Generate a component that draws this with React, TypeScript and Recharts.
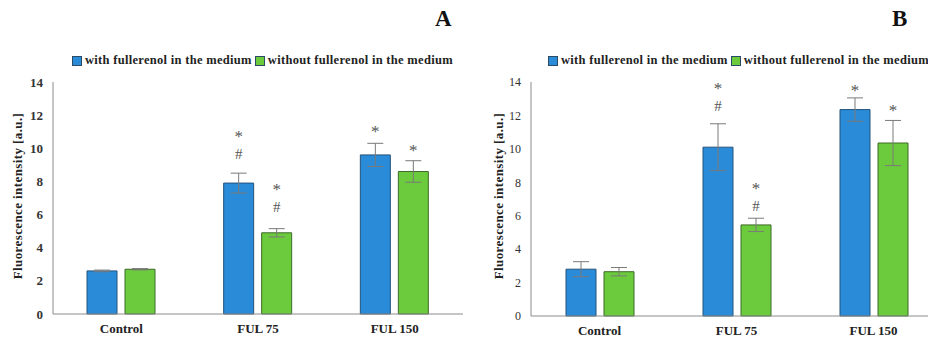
import { BarChart, Bar, XAxis, YAxis, ErrorBar, LabelList, Legend } from 'recharts'

const categories = ['Control', 'FUL 75', 'FUL 150']
const yTicks = [0, 2, 4, 6, 8, 10, 12, 14]

// panel A
const withA = [2.6, 7.9, 9.6]
const withAErr = [0.05, 0.6, 0.7]
const withoutA = [2.7, 4.9, 8.6]
const withoutAErr = [0.04, 0.25, 0.65]
const withAMarks = ['', '*#', '*']
const withAMarkLevel = [0, 10.9, 11.2]
const withoutAMarks = ['', '*#', '*']
const withoutAMarkLevel = [0, 7.7, 10.1]

// panel B
const withB = [2.8, 10.1, 12.35]
const withBErr = [0.45, 1.4, 0.7]
const withoutB = [2.65, 5.45, 10.35]
const withoutBErr = [0.25, 0.4, 1.35]
const withBMarks = ['', '*#', '*']
const withBMarkLevel = [0, 13.8, 13.7]
const withoutBMarks = ['', '*#', '*']
const withoutBMarkLevel = [0, 7.85, 12.5]

const BLUE = '#2a8bd8'
const GREEN = '#6ccb3c'
const SERIF = '"Liberation Serif", "Times New Roman", serif'
const AXIS = '#8c8c8c'

const SERIES = [
  { name: 'with fullerenol in the medium', color: BLUE },
  { name: 'without fullerenol in the medium', color: GREEN },
]

function buildRows(w: number[], we: number[], wo: number[], woe: number[],
  wm: string[], wl: number[], wom: string[], wol: number[]) {
  return categories.map((name, i) => ({
    name,
    with: w[i], withErr: we[i], without: wo[i], withoutErr: woe[i],
    withMark: wm[i], withLevel: wl[i], withoutMark: wom[i], withoutLevel: wol[i],
  }))
}

const dataA = buildRows(withA, withAErr, withoutA, withoutAErr, withAMarks, withAMarkLevel, withoutAMarks, withoutAMarkLevel)
const dataB = buildRows(withB, withBErr, withoutB, withoutBErr, withBMarks, withBMarkLevel, withoutBMarks, withoutBMarkLevel)

// place * / # at a level given in data units, using the bar's own pixel scale
function markRenderer(rows: any[], markKey: string, levelKey: string, valueKey: string) {
  return (props: any) => {
    const { x, y, width, height, index } = props
    const row = rows[index]
    if (!row || !row[markKey]) return null
    const perUnit = height / row[valueKey]
    const base = y + height
    const cy = base - row[levelKey] * perUnit
    const cx = x + width / 2
    return (
      <g>
        <text x={cx} y={cy + 9} textAnchor="middle" fontFamily={SERIF} fontSize={17} fill="#555">*</text>
        {row[markKey].includes('#') && (
          <text x={cx} y={cy + 26} textAnchor="middle" fontFamily={SERIF} fontSize={15} fill="#555">#</text>
        )}
      </g>
    )
  }
}

function LegendContent() {
  return (
    <div style={{ display: 'flex', fontFamily: SERIF, fontWeight: 700, fontSize: 12.5, color: '#222', letterSpacing: 0.3, whiteSpace: 'nowrap' }}>
      {SERIES.map((s) => (
        <span key={s.name} style={{ display: 'flex', alignItems: 'center', marginRight: 3 }}>
          <span style={{ width: 8, height: 8, background: s.color, border: '1px solid #2b4a66', marginRight: 3, display: 'inline-block' }} />
          {s.name}
        </span>
      ))}
    </div>
  )
}

function Panel({ data, yAxisWidth, width, rightMargin, xAxisHeight, boldTicks, legendLeft, labelX }: any) {
  const yTick = { fontFamily: SERIF, fontSize: boldTicks ? 13 : 12, fontWeight: boldTicks ? 700 : 400, fill: '#333' }
  return (
    <BarChart width={width} height={340} data={data} barSize={30} barGap={8}
      margin={{ top: 82, right: rightMargin, left: 0, bottom: 0 }}>
      <Legend layout="horizontal" verticalAlign="middle" content={<LegendContent />}
        wrapperStyle={{ top: 53, left: legendLeft, width: 'auto' }} />
      <XAxis dataKey="name" height={xAxisHeight} tickLine={false} axisLine={{ stroke: AXIS }}
        tick={{ fontFamily: SERIF, fontSize: 13, fontWeight: 700, fill: '#222' }} tickMargin={4} />
      <YAxis width={yAxisWidth} domain={[0, 14]} ticks={yTicks} tickLine={false}
        axisLine={{ stroke: AXIS }} tick={yTick} tickMargin={4}
        label={{
          content: () => (
            <text x={labelX} y={196} transform={`rotate(-90 ${labelX} 196)`} textAnchor="middle"
              dominantBaseline="central" fontFamily={SERIF} fontWeight={700} fontSize={13}
              letterSpacing={0.4} fill="#222">
              Fluorescence intensity  [a.u.]
            </text>
          ),
        }} />
      <Bar dataKey="with" name={SERIES[0].name} fill={BLUE} stroke="#24527a" strokeWidth={1} isAnimationActive={false}>
        <ErrorBar dataKey="withErr" width={8} stroke="#7a7a7a" strokeWidth={1} />
        <LabelList dataKey="withMark" content={markRenderer(data, 'withMark', 'withLevel', 'with')} />
      </Bar>
      <Bar dataKey="without" name={SERIES[1].name} fill={GREEN} stroke="#3d6a2a" strokeWidth={1} isAnimationActive={false}>
        <ErrorBar dataKey="withoutErr" width={8} stroke="#7a7a7a" strokeWidth={1} />
        <LabelList dataKey="withoutMark" content={markRenderer(data, 'withoutMark', 'withoutLevel', 'without')} />
      </Bar>
    </BarChart>
  )
}

export default function App() {
  const letter = { position: 'absolute' as const, top: 6, fontFamily: SERIF, fontWeight: 700, fontSize: 23, color: '#111' }
  return (
    <div style={{ position: 'absolute', left: 0, top: 0, width: 928, height: 340, overflow: 'hidden', background: '#fff' }}>
      <div style={{ position: 'absolute', left: 0, top: 0 }}>
        <Panel data={dataA} yAxisWidth={53} width={470} rightMargin={7} xAxisHeight={26}
          boldTicks legendLeft={72} labelX={17} />
      </div>
      <div style={{ position: 'absolute', left: 465, top: 0 }}>
        <Panel data={dataB} yAxisWidth={66} width={480} rightMargin={3} xAxisHeight={24}
          boldTicks={false} legendLeft={83} labelX={33} />
      </div>
      <div style={{ ...letter, left: 435 }}>A</div>
      <div style={{ ...letter, left: 892 }}>B</div>
    </div>
  )
}
